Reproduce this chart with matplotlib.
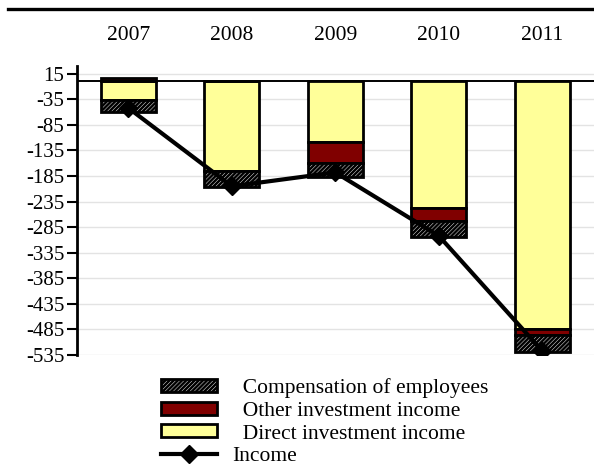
import matplotlib
matplotlib.use("Agg")
from matplotlib import pyplot as plt
from matplotlib.lines import Line2D
import numpy as np

plt.rcParams["font.family"] = ["Liberation Serif", "DejaVu Serif"]
plt.rcParams["hatch.linewidth"] = 1.8

years = ["2007", "2008", "2009", "2010", "2011"]
direct_inv = [-37, -176, -118, -247, -484]
other_inv = [7, 0, -42, -26, -12]
compensation = [-23, -31, -26, -32, -33]
income = [-52, -205, -178, -302, -527]
yticks = [15, -35, -85, -135, -185, -235, -285, -335, -385, -435, -485, -535]

x = np.arange(len(years))
w = 0.53

fig = plt.figure(figsize=(5.94, 4.75), dpi=100)
ax = fig.add_axes([0.129, 0.2526, 0.871, 0.6094])

# stack negatives downward from zero, positives upward
direct = np.array(direct_inv, dtype=float)
other = np.array(other_inv, dtype=float)
comp = np.array(compensation, dtype=float)
pos_base = np.zeros(len(x))
neg_base = np.zeros(len(x))

bars = {}
for name, vals, kw in [
    ("direct", direct, dict(color="#ffff99")),
    ("other", other, dict(color="#800000")),
    ("comp", comp, dict(color="white", hatch="////////")),
]:
    base = np.where(vals >= 0, pos_base, neg_base)
    bars[name] = ax.bar(x, vals, w, bottom=base, edgecolor="black",
                        linewidth=2, zorder=3, **kw)
    pos_base = pos_base + np.where(vals >= 0, vals, 0)
    neg_base = neg_base + np.where(vals < 0, vals, 0)

line, = ax.plot(x, income, color="black", lw=3.0, marker="D", ms=9.5,
                zorder=5)

ax.axhline(0, color="black", lw=1.4, zorder=4)

ax.set_xlim(-0.5, 4.5)
ax.set_ylim(-535, 31)
ax.set_yticks(yticks)
ax.set_yticklabels([str(v) for v in yticks], fontsize=15)
ax.yaxis.grid(True, color="#e3e3e3", lw=1)
ax.set_axisbelow(True)

ax.xaxis.tick_top()
ax.set_xticks(x)
ax.set_xticklabels(years, fontsize=15.5)
ax.tick_params(axis="x", length=0, pad=15)
ax.tick_params(axis="y", direction="out", length=7, width=1.5, pad=2)

for s in ["top", "right", "bottom"]:
    ax.spines[s].set_visible(False)
ax.spines["left"].set_linewidth(2)

fig.add_artist(Line2D([0.0135, 1.0], [0.981, 0.981], color="black",
                      lw=2.4, transform=fig.transFigure))

handles = [bars["comp"], bars["other"], bars["direct"], line]
labels = ["  Compensation of employees", "  Other investment income",
          "  Direct investment income", "Income"]
fig.legend(handles, labels, loc="upper left", bbox_to_anchor=(0.271, 0.204),
           frameon=False, fontsize=15.5, handlelength=2.6, handleheight=0.55,
           handletextpad=0.7, labelspacing=0.17, borderpad=0, borderaxespad=0)

fig.savefig("out.png", dpi=100)
